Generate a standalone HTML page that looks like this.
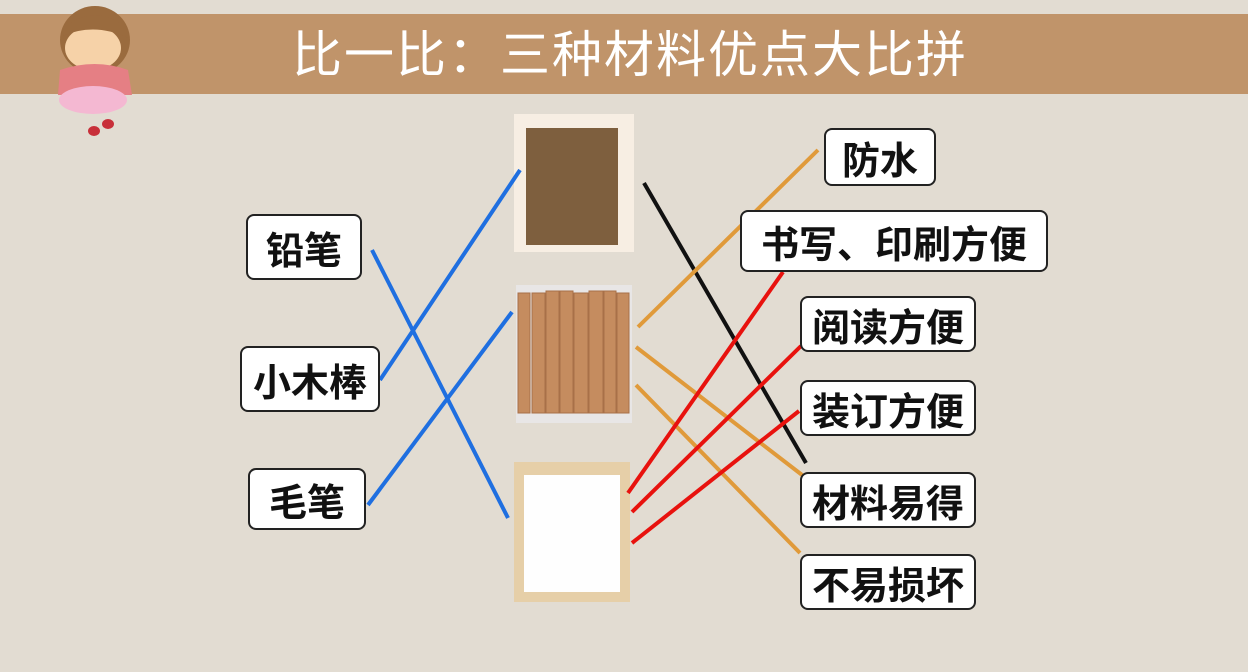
<!DOCTYPE html>
<html><head><meta charset="utf-8"><style>
body{margin:0;width:1248px;height:672px;background:#e2dcd2;overflow:hidden;position:relative;font-family:"Liberation Sans","Noto Sans CJK SC",sans-serif}
.ban{position:absolute;left:0;top:14px;width:1248px;height:80px;background:#c0946a}
.title{position:absolute;left:0;width:1260px;top:20px;text-align:center;color:#fff;font-size:50px;line-height:70px;letter-spacing:2px;font-weight:normal}
.b{position:absolute;border:2.5px solid #222;border-radius:8px;background:#fff;box-sizing:border-box;font-size:38px;font-weight:bold;color:#111;display:flex;align-items:center;justify-content:center;white-space:nowrap}
svg{position:absolute;left:0;top:0}
</style></head><body>
<div class="ban"></div>
<div class="title">比一比：三种材料优点大比拼</div>
<svg width="1248" height="672">
<ellipse cx="95" cy="40" rx="35" ry="34" fill="#9a6b3e"/>
<ellipse cx="93" cy="48" rx="28" ry="22" fill="#f6d2a8"/>
<path d="M62 30 Q95 0 128 30 L128 38 Q95 22 62 36Z" fill="#9a6b3e"/>
<path d="M60 70 Q95 58 128 70 L132 95 L58 95Z" fill="#e57f84"/>
<ellipse cx="93" cy="100" rx="34" ry="14" fill="#f4b8d2"/>
<ellipse cx="94" cy="131" rx="6" ry="5" fill="#c8303a"/>
<ellipse cx="108" cy="124" rx="6" ry="5" fill="#c8303a"/>
<rect x="514" y="114" width="120" height="138" fill="#f7eee3"/>
<rect x="526" y="128" width="92" height="117" fill="#7e5f3e"/>
<rect x="516" y="285" width="116" height="138" fill="#e8e6e6"/>
<g fill="#c58c5f" stroke="#a87048" stroke-width="1">
<rect x="518" y="293" width="12" height="120"/><rect x="532" y="293" width="13" height="120"/><rect x="546" y="291" width="13" height="122"/><rect x="560" y="291" width="13" height="122"/><rect x="574" y="293" width="14" height="120"/><rect x="589" y="291" width="14" height="122"/><rect x="604" y="291" width="12" height="122"/><rect x="617" y="293" width="12" height="120"/>
</g>
<rect x="514" y="462" width="116" height="140" fill="#e6cfa8"/>
<rect x="524" y="475" width="96" height="117" fill="#fefefe"/>
<g stroke-width="4" stroke-linecap="butt" fill="none">
<line x1="372" y1="250" x2="508" y2="518" stroke="#1f6fe0"/>
<line x1="380" y1="380" x2="520" y2="170" stroke="#1f6fe0"/>
<line x1="368" y1="505" x2="512" y2="312" stroke="#1f6fe0"/>
<line x1="644" y1="183" x2="806" y2="463" stroke="#111"/>
<line x1="638" y1="327" x2="818" y2="150" stroke="#e09a3a"/>
<line x1="636" y1="347" x2="806" y2="478" stroke="#e09a3a"/>
<line x1="636" y1="385" x2="800" y2="553" stroke="#e09a3a"/>
<line x1="628" y1="493" x2="783" y2="272" stroke="#e8120e"/>
<line x1="632" y1="512" x2="801" y2="346" stroke="#e8120e"/>
<line x1="632" y1="543" x2="799" y2="411" stroke="#e8120e"/>
</g>
</svg>
<div class="b" style="left:246px;top:214px;width:116px;height:66px">铅笔</div>
<div class="b" style="left:240px;top:346px;width:140px;height:66px">小木棒</div>
<div class="b" style="left:248px;top:468px;width:118px;height:62px">毛笔</div>
<div class="b" style="left:824px;top:128px;width:112px;height:58px">防水</div>
<div class="b" style="left:740px;top:210px;width:308px;height:62px">书写、印刷方便</div>
<div class="b" style="left:800px;top:296px;width:176px;height:56px">阅读方便</div>
<div class="b" style="left:800px;top:380px;width:176px;height:56px">装订方便</div>
<div class="b" style="left:800px;top:472px;width:176px;height:56px">材料易得</div>
<div class="b" style="left:800px;top:554px;width:176px;height:56px">不易损坏</div>
</body></html>
